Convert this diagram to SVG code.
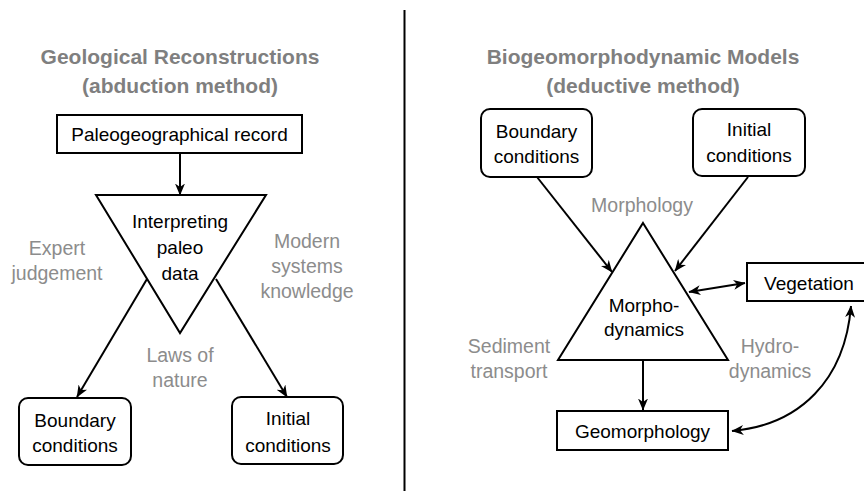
<svg xmlns="http://www.w3.org/2000/svg" width="864" height="491" viewBox="0 0 864 491">
<defs>
<marker id="ah" markerUnits="userSpaceOnUse" viewBox="0 0 12 10" markerWidth="12" markerHeight="10" refX="11.5" refY="5" orient="auto-start-reverse">
<path d="M0,0 L12,5 L0,10 L3.5,5 z" fill="#000"/>
</marker>
<style>
.box{fill:#fff;stroke:#000;stroke-width:2}
.tri{fill:#fff;stroke:#000;stroke-width:2;stroke-linejoin:miter}
.t{font-family:"Liberation Sans",Arial,sans-serif;font-size:19px;fill:#000;text-anchor:middle}
.g{font-family:"Liberation Sans",Arial,sans-serif;font-size:19.5px;fill:#8c8c8c;text-anchor:middle}
.h{font-family:"Liberation Sans",Arial,sans-serif;font-size:21px;font-weight:bold;fill:#7f7f7f;text-anchor:middle}
.c{fill:none;stroke:#000;stroke-width:2}
</style>
</defs>
<rect width="864" height="491" fill="#fff"/>
<line x1="404.5" y1="10" x2="404.5" y2="491" stroke="#000" stroke-width="2"/>

<g id="title-left">
<text class="h" x="180" y="64">Geological Reconstructions</text>
<text class="h" x="180" y="93">(abduction method)</text>
</g>
<g id="title-right">
<text class="h" x="643" y="64">Biogeomorphodynamic Models</text>
<text class="h" x="643" y="93">(deductive method)</text>
</g>

<g id="connectors">
<line class="c" x1="180" y1="153" x2="180" y2="195" marker-end="url(#ah)"/>
<line class="c" x1="147" y1="279" x2="77" y2="397" marker-end="url(#ah)"/>
<line class="c" x1="216" y1="279" x2="287" y2="397" marker-end="url(#ah)"/>
<line class="c" x1="537" y1="177" x2="612" y2="272" marker-end="url(#ah)"/>
<line class="c" x1="748" y1="177" x2="675" y2="271" marker-end="url(#ah)"/>
<line class="c" x1="689" y1="292" x2="745" y2="283" marker-start="url(#ah)" marker-end="url(#ah)"/>
<line class="c" x1="643" y1="361" x2="643" y2="410" marker-end="url(#ah)"/>
<path class="c" d="M851,306 C845,380 800,425 732,431" marker-start="url(#ah)" marker-end="url(#ah)"/>
</g>

<g id="paleo-record">
<rect class="box" x="57" y="115" width="245" height="38"/>
<text class="t" x="179.5" y="141">Paleogeographical record</text>
</g>
<g id="interpreting">
<polygon class="tri" points="96,195 266,195 180,333"/>
<text class="t" x="180" y="228">Interpreting</text>
<text class="t" x="180" y="254">paleo</text>
<text class="t" x="180" y="280">data</text>
</g>
<g id="boundary-left">
<rect class="box" x="19" y="398" width="112" height="67" rx="9"/>
<text class="t" x="75" y="427">Boundary</text>
<text class="t" x="75" y="452">conditions</text>
</g>
<g id="initial-left">
<rect class="box" x="232" y="397" width="111" height="67" rx="9"/>
<text class="t" x="288" y="425">Initial</text>
<text class="t" x="288" y="452">conditions</text>
</g>
<g id="labels-left">
<text class="g" x="57" y="255">Expert</text>
<text class="g" x="57" y="280">judgement</text>
<text class="g" x="307" y="248">Modern</text>
<text class="g" x="307" y="273">systems</text>
<text class="g" x="307" y="298">knowledge</text>
<text class="g" x="180" y="362">Laws of</text>
<text class="g" x="180" y="387">nature</text>
</g>

<g id="boundary-right">
<rect class="box" x="481" y="109" width="111" height="68" rx="9"/>
<text class="t" x="536.5" y="138">Boundary</text>
<text class="t" x="536.5" y="163">conditions</text>
</g>
<g id="initial-right">
<rect class="box" x="693" y="109" width="112" height="67" rx="9"/>
<text class="t" x="749" y="136">Initial</text>
<text class="t" x="749" y="162">conditions</text>
</g>
<g id="morphodynamics">
<polygon class="tri" points="643,223 728,360 558,360"/>
<text class="t" x="644" y="312">Morpho-</text>
<text class="t" x="644" y="336">dynamics</text>
</g>
<g id="vegetation">
<rect class="box" x="747" y="263" width="125" height="38"/>
<text class="t" x="809" y="290">Vegetation</text>
</g>
<g id="geomorphology">
<rect class="box" x="557" y="411" width="171" height="39"/>
<text class="t" x="642.5" y="438">Geomorphology</text>
</g>
<g id="labels-right">
<text class="g" x="642" y="212">Morphology</text>
<text class="g" x="509" y="353">Sediment</text>
<text class="g" x="509" y="378">transport</text>
<text class="g" x="770" y="353">Hydro-</text>
<text class="g" x="770" y="378">dynamics</text>
</g>
</svg>
